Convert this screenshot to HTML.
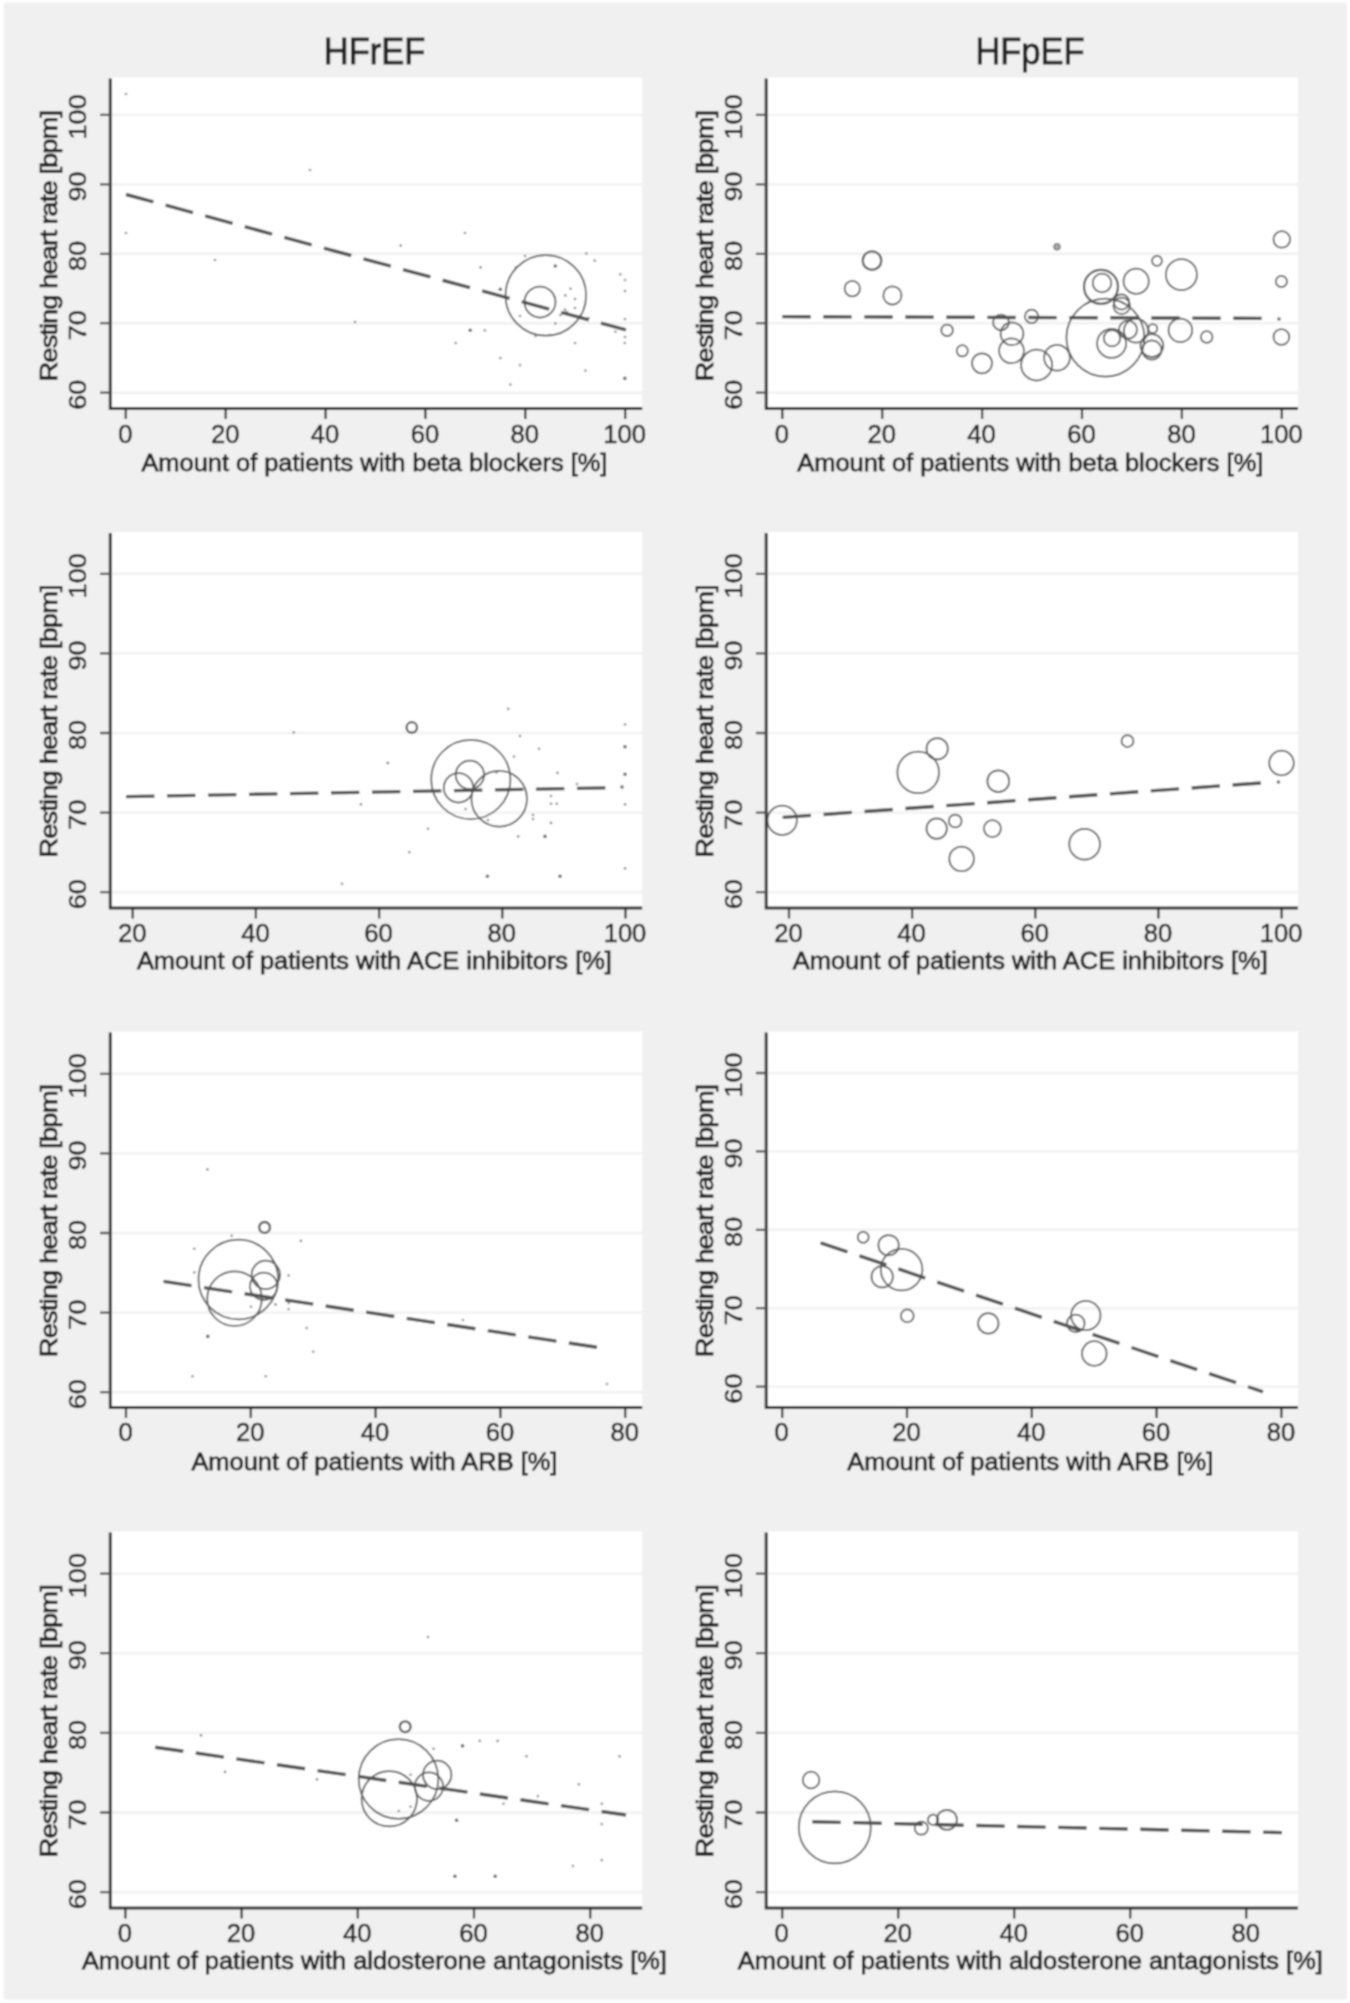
<!DOCTYPE html>
<html lang="en"><head><meta charset="utf-8"><title>HFrEF vs HFpEF – resting heart rate by medication</title>
<style>html,body{margin:0;padding:0;background:#fff}svg{display:block}text{font-family:"Liberation Sans", Arial, Helvetica, sans-serif;fill:#202020;stroke:#202020;stroke-width:0.3px}.tk{font-size:25.6px;stroke-width:0.5px}.tt{font-size:24.7px;stroke-width:0.8px}.hd{font-size:36.5px;stroke-width:0.9px}.c{fill:none;stroke:#565656;stroke-width:1.75}.c2{fill:none;stroke:#565656;stroke-width:2.3}.d{fill:#8a8a8a}.dd{fill:#666}.ln{stroke:#505050;stroke-width:3.4;stroke-dasharray:28.4 12.6;fill:none}.ax{stroke:#2c2c2c;stroke-width:3;fill:none}.tick{stroke:#2a2a2a;stroke-width:2.2;fill:none}.ytick{stroke:#555;stroke-width:2.3;fill:none}.g{stroke:#f1f1f1;stroke-width:2.4}</style></head><body>
<svg width="1350" height="2003" viewBox="0 0 1350 2003">
<defs><filter id="b" x="-2%" y="-2%" width="104%" height="104%"><feConvolveMatrix order="3" kernelMatrix="1 2 1 2 4 2 1 2 1" divisor="16" edgeMode="duplicate" preserveAlpha="false"/><feConvolveMatrix order="3" kernelMatrix="1 6 1 6 36 6 1 6 1" divisor="64" edgeMode="duplicate" preserveAlpha="false"/></filter></defs>
<rect x="0" y="0" width="1350" height="2003" fill="#fff"/>
<g filter="url(#b)">
<rect x="3.6" y="2.5" width="1343.4" height="1997.2" rx="3" fill="#f0f0f0"/>
<text class="hd" text-anchor="middle" transform="translate(374.5 63.7) scale(0.945 1)">HFrEF</text>
<text class="hd" text-anchor="middle" transform="translate(1030 63.7) scale(0.945 1)">HFpEF</text>
<rect x="110.3" y="77.5" width="531.9" height="331.1" fill="#fff"/>
<line class="g" x1="111.3" y1="114.9" x2="642.2" y2="114.9"/>
<line class="g" x1="111.3" y1="184.4" x2="642.2" y2="184.4"/>
<line class="g" x1="111.3" y1="253.8" x2="642.2" y2="253.8"/>
<line class="g" x1="111.3" y1="323.2" x2="642.2" y2="323.2"/>
<line class="g" x1="111.3" y1="392.7" x2="642.2" y2="392.7"/>
<g class="d"><circle cx="126.0" cy="94.0" r="1.3"/><circle cx="310.0" cy="170.0" r="1.3"/><circle cx="126.0" cy="233.0" r="1.3"/><circle cx="465.0" cy="233.0" r="1.3"/><circle cx="400.7" cy="245.6" r="1.3"/><circle cx="215.0" cy="260.0" r="1.3"/><circle cx="480.6" cy="267.4" r="1.3"/><circle cx="355.0" cy="322.0" r="1.3"/><circle cx="484.8" cy="330.3" r="1.3"/><circle cx="455.7" cy="343.0" r="1.3"/><circle cx="500.3" cy="358.0" r="1.3"/><circle cx="520.0" cy="365.0" r="1.3"/><circle cx="510.3" cy="384.6" r="1.3"/><circle cx="585.4" cy="370.5" r="1.3"/><circle cx="624.8" cy="343.0" r="1.3"/><circle cx="575.0" cy="343.0" r="1.3"/><circle cx="586.4" cy="253.5" r="1.3"/><circle cx="594.7" cy="260.6" r="1.3"/><circle cx="620.2" cy="274.3" r="1.3"/><circle cx="625.0" cy="280.0" r="1.3"/><circle cx="625.0" cy="291.0" r="1.3"/><circle cx="625.0" cy="319.0" r="1.3"/><circle cx="625.0" cy="337.0" r="1.3"/><circle cx="525.0" cy="256.0" r="1.3"/><circle cx="516.0" cy="267.4" r="1.3"/><circle cx="570.5" cy="288.8" r="1.3"/><circle cx="565.3" cy="295.4" r="1.3"/><circle cx="575.0" cy="299.0" r="1.3"/><circle cx="575.0" cy="308.0" r="1.3"/><circle cx="565.0" cy="309.5" r="1.3"/><circle cx="560.5" cy="315.0" r="1.3"/><circle cx="588.5" cy="318.0" r="1.3"/><circle cx="555.3" cy="323.4" r="1.3"/><circle cx="520.0" cy="316.0" r="1.3"/><circle cx="535.6" cy="336.0" r="1.3"/><circle cx="550.0" cy="335.0" r="1.3"/><circle cx="615.5" cy="331.7" r="1.3"/><circle cx="567.0" cy="312.0" r="1.3"/><circle cx="580.0" cy="316.0" r="1.3"/></g>
<g class="dd"><circle cx="500.3" cy="289.2" r="1.8"/><circle cx="470.2" cy="330.3" r="1.8"/><circle cx="624.8" cy="378.4" r="1.8"/><circle cx="555.3" cy="266.0" r="1.8"/></g>
<circle class="c" cx="545.8" cy="295.4" r="40.3"/><circle class="c" cx="540.0" cy="302.0" r="15.5"/>
<line class="ln" x1="126.0" y1="194.5" x2="626.0" y2="329.9"/>
<path class="ax" d="M110.3 78.5V408.6H642.2"/>
<path class="ytick" d="M100.0 114.9H110.3M100.0 184.4H110.3M100.0 253.8H110.3M100.0 323.2H110.3M100.0 392.7H110.3"/>
<path class="tick" d="M125.8 408.6V419.1M225.7 408.6V419.1M325.6 408.6V419.1M425.4 408.6V419.1M525.3 408.6V419.1M625.2 408.6V419.1"/>
<text class="tk" style="font-size:24.1px" text-anchor="middle" transform="translate(86.2 116.9) rotate(-90) scale(1.125 1)">100</text>
<text class="tk" style="font-size:24.1px" text-anchor="middle" transform="translate(86.2 186.4) rotate(-90) scale(1.125 1)">90</text>
<text class="tk" style="font-size:24.1px" text-anchor="middle" transform="translate(86.2 255.8) rotate(-90) scale(1.125 1)">80</text>
<text class="tk" style="font-size:24.1px" text-anchor="middle" transform="translate(86.2 325.2) rotate(-90) scale(1.125 1)">70</text>
<text class="tk" style="font-size:24.1px" text-anchor="middle" transform="translate(86.2 394.7) rotate(-90) scale(1.125 1)">60</text>
<text class="tk" text-anchor="middle" transform="translate(125.3 442.5) scale(1.0 1)">0</text>
<text class="tk" text-anchor="middle" transform="translate(225.2 442.5) scale(1.0 1)">20</text>
<text class="tk" text-anchor="middle" transform="translate(325.1 442.5) scale(1.0 1)">40</text>
<text class="tk" text-anchor="middle" transform="translate(424.9 442.5) scale(1.0 1)">60</text>
<text class="tk" text-anchor="middle" transform="translate(524.8 442.5) scale(1.0 1)">80</text>
<text class="tk" text-anchor="middle" transform="translate(624.7 442.5) scale(1.0 1)">100</text>
<text class="tt" text-anchor="middle" x="374.4" y="470.6" textLength="466.0" lengthAdjust="spacingAndGlyphs">Amount of patients with beta blockers [%]</text>
<text class="tt" style="font-size:24.3px" text-anchor="middle" transform="translate(57.1 245.7) rotate(-90) scale(1.13 1)" textLength="240.3" lengthAdjust="spacing">Resting heart rate [bpm]</text>
<rect x="766.2" y="77.5" width="531.8" height="331.1" fill="#fff"/>
<line class="g" x1="767.2" y1="114.9" x2="1298.0" y2="114.9"/>
<line class="g" x1="767.2" y1="184.4" x2="1298.0" y2="184.4"/>
<line class="g" x1="767.2" y1="253.8" x2="1298.0" y2="253.8"/>
<line class="g" x1="767.2" y1="323.2" x2="1298.0" y2="323.2"/>
<line class="g" x1="767.2" y1="392.7" x2="1298.0" y2="392.7"/>
<circle class="c2" cx="872.0" cy="260.6" r="9.3"/><circle class="c" cx="852.3" cy="288.6" r="7.7"/><circle class="c" cx="892.4" cy="295.4" r="9.1"/><circle class="c" cx="947.1" cy="330.3" r="5.8"/><circle class="c" cx="962.3" cy="350.8" r="5.6"/><circle class="c" cx="982.0" cy="363.3" r="10.0"/><circle class="c" cx="1001.0" cy="322.4" r="7.9"/><circle class="c" cx="1012.0" cy="333.8" r="11.4"/><circle class="c" cx="1011.5" cy="350.8" r="12.4"/><circle class="c" cx="1031.6" cy="316.4" r="6.7"/><circle class="c" cx="1036.6" cy="365.0" r="15.5"/><circle class="c" cx="1057.0" cy="357.7" r="12.9"/><circle class="c" cx="1105.4" cy="337.6" r="39.0"/><circle class="c2" cx="1101.0" cy="286.8" r="17.0"/><circle class="c" cx="1102.0" cy="283.0" r="9.3"/><circle class="c" cx="1136.2" cy="281.3" r="12.6"/><circle class="c" cx="1157.0" cy="260.8" r="5.0"/><circle class="c" cx="1181.4" cy="274.7" r="15.5"/><circle class="c" cx="1281.8" cy="239.4" r="8.3"/><circle class="c" cx="1281.4" cy="281.5" r="5.6"/><circle class="c" cx="1281.4" cy="337.0" r="7.9"/><circle class="c" cx="1206.7" cy="337.0" r="5.8"/><circle class="c" cx="1180.4" cy="330.3" r="11.8"/><circle class="c" cx="1121.7" cy="305.8" r="8.3"/><circle class="c" cx="1121.5" cy="302.0" r="7.6"/><circle class="c" cx="1111.6" cy="343.4" r="14.5"/><circle class="c" cx="1112.0" cy="338.2" r="8.2"/><circle class="c" cx="1151.9" cy="345.6" r="11.4"/><circle class="c" cx="1151.9" cy="350.0" r="9.6"/><circle class="c" cx="1128.0" cy="329.7" r="9.0"/><circle class="c" cx="1136.0" cy="330.7" r="12.0"/><circle class="c" cx="1152.8" cy="328.6" r="4.5"/>
<line class="ln" x1="782.3" y1="316.6" x2="1268.0" y2="318.4"/>
<path class="ax" d="M766.2 78.5V408.6H1298.0"/>
<path class="ytick" d="M755.9 114.9H766.2M755.9 184.4H766.2M755.9 253.8H766.2M755.9 323.2H766.2M755.9 392.7H766.2"/>
<path class="tick" d="M782.3 408.6V419.1M882.2 408.6V419.1M982.1 408.6V419.1M1082.0 408.6V419.1M1181.9 408.6V419.1M1281.8 408.6V419.1"/>
<text class="tk" style="font-size:24.1px" text-anchor="middle" transform="translate(742.1 116.9) rotate(-90) scale(1.125 1)">100</text>
<text class="tk" style="font-size:24.1px" text-anchor="middle" transform="translate(742.1 186.4) rotate(-90) scale(1.125 1)">90</text>
<text class="tk" style="font-size:24.1px" text-anchor="middle" transform="translate(742.1 255.8) rotate(-90) scale(1.125 1)">80</text>
<text class="tk" style="font-size:24.1px" text-anchor="middle" transform="translate(742.1 325.2) rotate(-90) scale(1.125 1)">70</text>
<text class="tk" style="font-size:24.1px" text-anchor="middle" transform="translate(742.1 394.7) rotate(-90) scale(1.125 1)">60</text>
<text class="tk" text-anchor="middle" transform="translate(781.8 442.5) scale(1.0 1)">0</text>
<text class="tk" text-anchor="middle" transform="translate(881.7 442.5) scale(1.0 1)">20</text>
<text class="tk" text-anchor="middle" transform="translate(981.6 442.5) scale(1.0 1)">40</text>
<text class="tk" text-anchor="middle" transform="translate(1081.5 442.5) scale(1.0 1)">60</text>
<text class="tk" text-anchor="middle" transform="translate(1181.4 442.5) scale(1.0 1)">80</text>
<text class="tk" text-anchor="middle" transform="translate(1281.3 442.5) scale(1.0 1)">100</text>
<text class="tt" text-anchor="middle" x="1030.3" y="470.6" textLength="466.0" lengthAdjust="spacingAndGlyphs">Amount of patients with beta blockers [%]</text>
<text class="tt" style="font-size:24.3px" text-anchor="middle" transform="translate(713.0 245.7) rotate(-90) scale(1.13 1)" textLength="240.3" lengthAdjust="spacing">Resting heart rate [bpm]</text>
<circle cx="1057" cy="246.7" r="3.1" fill="#a8a8a8" stroke="#777" stroke-width="1.3"/>
<circle cx="1279" cy="319" r="1.8" fill="#666"/>
<rect x="110.3" y="532.0" width="531.9" height="376.0" fill="#fff"/>
<line class="g" x1="111.3" y1="573.8" x2="642.2" y2="573.8"/>
<line class="g" x1="111.3" y1="653.4" x2="642.2" y2="653.4"/>
<line class="g" x1="111.3" y1="733.0" x2="642.2" y2="733.0"/>
<line class="g" x1="111.3" y1="812.6" x2="642.2" y2="812.6"/>
<line class="g" x1="111.3" y1="892.2" x2="642.2" y2="892.2"/>
<g class="d"><circle cx="508.2" cy="708.9" r="1.3"/><circle cx="625.0" cy="724.5" r="1.3"/><circle cx="625.0" cy="804.4" r="1.3"/><circle cx="625.0" cy="868.4" r="1.3"/><circle cx="520.0" cy="736.0" r="1.3"/><circle cx="539.0" cy="748.7" r="1.3"/><circle cx="514.0" cy="756.5" r="1.3"/><circle cx="557.5" cy="772.9" r="1.3"/><circle cx="388.0" cy="763.0" r="1.3"/><circle cx="360.9" cy="804.4" r="1.3"/><circle cx="551.0" cy="796.0" r="1.3"/><circle cx="551.0" cy="803.7" r="1.3"/><circle cx="556.8" cy="803.7" r="1.3"/><circle cx="533.0" cy="815.0" r="1.3"/><circle cx="551.0" cy="822.9" r="1.3"/><circle cx="518.2" cy="836.4" r="1.3"/><circle cx="428.0" cy="828.8" r="1.3"/><circle cx="409.4" cy="852.3" r="1.3"/><circle cx="342.0" cy="883.8" r="1.3"/><circle cx="488.0" cy="820.0" r="1.3"/><circle cx="496.4" cy="772.4" r="1.3"/><circle cx="465.6" cy="809.0" r="1.3"/><circle cx="577.0" cy="784.0" r="1.3"/><circle cx="293.7" cy="732.3" r="1.3"/><circle cx="387.5" cy="763.0" r="1.3"/><circle cx="533.0" cy="819.0" r="1.3"/></g>
<g class="dd"><circle cx="625.0" cy="746.8" r="1.8"/><circle cx="625.0" cy="774.3" r="1.8"/><circle cx="622.0" cy="787.0" r="1.8"/><circle cx="545.0" cy="836.4" r="1.8"/><circle cx="487.4" cy="876.2" r="1.8"/><circle cx="560.0" cy="876.2" r="1.8"/></g>
<circle class="c" cx="470.8" cy="779.5" r="39.6"/><circle class="c" cx="499.2" cy="798.7" r="27.8"/><circle class="c" cx="469.9" cy="774.8" r="14.2"/><circle class="c" cx="458.5" cy="787.8" r="14.7"/><circle class="c2" cx="411.8" cy="727.4" r="5.2"/>
<line class="ln" x1="126.0" y1="796.6" x2="607.0" y2="787.8"/>
<path class="ax" d="M110.3 533.0V908.0H642.2"/>
<path class="ytick" d="M100.0 573.8H110.3M100.0 653.4H110.3M100.0 733.0H110.3M100.0 812.6H110.3M100.0 892.2H110.3"/>
<path class="tick" d="M132.7 908.0V918.5M255.9 908.0V918.5M379.1 908.0V918.5M502.3 908.0V918.5M625.5 908.0V918.5"/>
<text class="tk" style="font-size:24.1px" text-anchor="middle" transform="translate(86.2 575.8) rotate(-90) scale(1.125 1)">100</text>
<text class="tk" style="font-size:24.1px" text-anchor="middle" transform="translate(86.2 655.4) rotate(-90) scale(1.125 1)">90</text>
<text class="tk" style="font-size:24.1px" text-anchor="middle" transform="translate(86.2 735.0) rotate(-90) scale(1.125 1)">80</text>
<text class="tk" style="font-size:24.1px" text-anchor="middle" transform="translate(86.2 814.6) rotate(-90) scale(1.125 1)">70</text>
<text class="tk" style="font-size:24.1px" text-anchor="middle" transform="translate(86.2 894.2) rotate(-90) scale(1.125 1)">60</text>
<text class="tk" text-anchor="middle" transform="translate(132.2 941.9) scale(1.0 1)">20</text>
<text class="tk" text-anchor="middle" transform="translate(255.4 941.9) scale(1.0 1)">40</text>
<text class="tk" text-anchor="middle" transform="translate(378.6 941.9) scale(1.0 1)">60</text>
<text class="tk" text-anchor="middle" transform="translate(501.8 941.9) scale(1.0 1)">80</text>
<text class="tk" text-anchor="middle" transform="translate(625.0 941.9) scale(1.0 1)">100</text>
<text class="tt" text-anchor="middle" x="374.4" y="968.5" textLength="475.0" lengthAdjust="spacingAndGlyphs">Amount of patients with ACE inhibitors [%]</text>
<text class="tt" style="font-size:24.3px" text-anchor="middle" transform="translate(57.1 721.0) rotate(-90) scale(1.13 1)" textLength="242.0" lengthAdjust="spacing">Resting heart rate [bpm]</text>
<rect x="766.2" y="532.0" width="531.8" height="376.0" fill="#fff"/>
<line class="g" x1="767.2" y1="573.8" x2="1298.0" y2="573.8"/>
<line class="g" x1="767.2" y1="653.4" x2="1298.0" y2="653.4"/>
<line class="g" x1="767.2" y1="733.0" x2="1298.0" y2="733.0"/>
<line class="g" x1="767.2" y1="812.6" x2="1298.0" y2="812.6"/>
<line class="g" x1="767.2" y1="892.2" x2="1298.0" y2="892.2"/>
<g class="dd"><circle cx="1278.4" cy="782.0" r="1.8"/></g>
<circle class="c" cx="782.2" cy="820.3" r="14.7"/><circle class="c" cx="918.2" cy="772.4" r="20.8"/><circle class="c" cx="937.2" cy="748.7" r="10.7"/><circle class="c" cx="998.3" cy="781.2" r="10.9"/><circle class="c" cx="936.7" cy="828.6" r="10.2"/><circle class="c" cx="955.2" cy="821.0" r="6.4"/><circle class="c" cx="992.4" cy="828.6" r="8.5"/><circle class="c" cx="961.6" cy="858.9" r="12.3"/><circle class="c" cx="1127.5" cy="741.0" r="6.0"/><circle class="c" cx="1281.5" cy="763.0" r="12.3"/><circle class="c" cx="1084.6" cy="844.2" r="15.4"/>
<line class="ln" x1="782.7" y1="817.4" x2="1262.0" y2="782.9"/>
<path class="ax" d="M766.2 533.0V908.0H1298.0"/>
<path class="ytick" d="M755.9 573.8H766.2M755.9 653.4H766.2M755.9 733.0H766.2M755.9 812.6H766.2M755.9 892.2H766.2"/>
<path class="tick" d="M789.0 908.0V918.5M912.1 908.0V918.5M1035.3 908.0V918.5M1158.4 908.0V918.5M1281.6 908.0V918.5"/>
<text class="tk" style="font-size:24.1px" text-anchor="middle" transform="translate(742.1 575.8) rotate(-90) scale(1.125 1)">100</text>
<text class="tk" style="font-size:24.1px" text-anchor="middle" transform="translate(742.1 655.4) rotate(-90) scale(1.125 1)">90</text>
<text class="tk" style="font-size:24.1px" text-anchor="middle" transform="translate(742.1 735.0) rotate(-90) scale(1.125 1)">80</text>
<text class="tk" style="font-size:24.1px" text-anchor="middle" transform="translate(742.1 814.6) rotate(-90) scale(1.125 1)">70</text>
<text class="tk" style="font-size:24.1px" text-anchor="middle" transform="translate(742.1 894.2) rotate(-90) scale(1.125 1)">60</text>
<text class="tk" text-anchor="middle" transform="translate(788.5 941.9) scale(1.0 1)">20</text>
<text class="tk" text-anchor="middle" transform="translate(911.6 941.9) scale(1.0 1)">40</text>
<text class="tk" text-anchor="middle" transform="translate(1034.8 941.9) scale(1.0 1)">60</text>
<text class="tk" text-anchor="middle" transform="translate(1157.9 941.9) scale(1.0 1)">80</text>
<text class="tk" text-anchor="middle" transform="translate(1281.1 941.9) scale(1.0 1)">100</text>
<text class="tt" text-anchor="middle" x="1030.3" y="968.5" textLength="475.0" lengthAdjust="spacingAndGlyphs">Amount of patients with ACE inhibitors [%]</text>
<text class="tt" style="font-size:24.3px" text-anchor="middle" transform="translate(713.0 721.0) rotate(-90) scale(1.13 1)" textLength="242.0" lengthAdjust="spacing">Resting heart rate [bpm]</text>
<rect x="110.3" y="1031.5" width="531.9" height="376.0" fill="#fff"/>
<line class="g" x1="111.3" y1="1073.8" x2="642.2" y2="1073.8"/>
<line class="g" x1="111.3" y1="1153.4" x2="642.2" y2="1153.4"/>
<line class="g" x1="111.3" y1="1233.0" x2="642.2" y2="1233.0"/>
<line class="g" x1="111.3" y1="1312.6" x2="642.2" y2="1312.6"/>
<line class="g" x1="111.3" y1="1392.2" x2="642.2" y2="1392.2"/>
<g class="d"><circle cx="231.7" cy="1235.7" r="1.3"/><circle cx="300.9" cy="1240.9" r="1.3"/><circle cx="194.3" cy="1248.7" r="1.3"/><circle cx="194.3" cy="1272.4" r="1.3"/><circle cx="288.6" cy="1275.5" r="1.3"/><circle cx="275.5" cy="1304.4" r="1.3"/><circle cx="288.6" cy="1309.0" r="1.3"/><circle cx="251.0" cy="1306.8" r="1.3"/><circle cx="306.8" cy="1328.0" r="1.3"/><circle cx="313.2" cy="1351.8" r="1.3"/><circle cx="192.4" cy="1376.2" r="1.3"/><circle cx="265.8" cy="1376.2" r="1.3"/><circle cx="207.4" cy="1169.4" r="1.3"/><circle cx="463.0" cy="1320.0" r="1.3"/><circle cx="607.0" cy="1384.0" r="1.3"/><circle cx="288.6" cy="1303.0" r="1.3"/></g>
<g class="dd"><circle cx="207.8" cy="1336.4" r="1.8"/></g>
<circle class="c" cx="238.3" cy="1279.5" r="39.8"/><circle class="c" cx="234.5" cy="1298.7" r="27.3"/><circle class="c" cx="265.8" cy="1274.8" r="14.2"/><circle class="c" cx="263.7" cy="1286.2" r="13.7"/><circle class="c2" cx="264.6" cy="1227.4" r="5.4"/>
<line class="ln" x1="163.5" y1="1281.4" x2="600.0" y2="1347.7"/>
<path class="ax" d="M110.3 1032.5V1407.5H642.2"/>
<path class="ytick" d="M100.0 1073.8H110.3M100.0 1153.4H110.3M100.0 1233.0H110.3M100.0 1312.6H110.3M100.0 1392.2H110.3"/>
<path class="tick" d="M126.0 1407.5V1418.0M250.8 1407.5V1418.0M375.6 1407.5V1418.0M500.4 1407.5V1418.0M625.2 1407.5V1418.0"/>
<text class="tk" style="font-size:24.1px" text-anchor="middle" transform="translate(86.2 1075.8) rotate(-90) scale(1.125 1)">100</text>
<text class="tk" style="font-size:24.1px" text-anchor="middle" transform="translate(86.2 1155.4) rotate(-90) scale(1.125 1)">90</text>
<text class="tk" style="font-size:24.1px" text-anchor="middle" transform="translate(86.2 1235.0) rotate(-90) scale(1.125 1)">80</text>
<text class="tk" style="font-size:24.1px" text-anchor="middle" transform="translate(86.2 1314.6) rotate(-90) scale(1.125 1)">70</text>
<text class="tk" style="font-size:24.1px" text-anchor="middle" transform="translate(86.2 1394.2) rotate(-90) scale(1.125 1)">60</text>
<text class="tk" text-anchor="middle" transform="translate(125.5 1441.4) scale(1.0 1)">0</text>
<text class="tk" text-anchor="middle" transform="translate(250.3 1441.4) scale(1.0 1)">20</text>
<text class="tk" text-anchor="middle" transform="translate(375.1 1441.4) scale(1.0 1)">40</text>
<text class="tk" text-anchor="middle" transform="translate(499.9 1441.4) scale(1.0 1)">60</text>
<text class="tk" text-anchor="middle" transform="translate(624.7 1441.4) scale(1.0 1)">80</text>
<text class="tt" text-anchor="middle" x="374.4" y="1469.5" textLength="366.0" lengthAdjust="spacingAndGlyphs">Amount of patients with ARB [%]</text>
<text class="tt" style="font-size:24.3px" text-anchor="middle" transform="translate(57.1 1220.5) rotate(-90) scale(1.13 1)" textLength="242.0" lengthAdjust="spacing">Resting heart rate [bpm]</text>
<rect x="766.2" y="1031.5" width="531.8" height="376.0" fill="#fff"/>
<line class="g" x1="767.2" y1="1073.0" x2="1298.0" y2="1073.0"/>
<line class="g" x1="767.2" y1="1151.4" x2="1298.0" y2="1151.4"/>
<line class="g" x1="767.2" y1="1229.8" x2="1298.0" y2="1229.8"/>
<line class="g" x1="767.2" y1="1308.2" x2="1298.0" y2="1308.2"/>
<line class="g" x1="767.2" y1="1386.6" x2="1298.0" y2="1386.6"/>
<circle class="c" cx="863.2" cy="1237.3" r="5.5"/><circle class="c" cx="888.6" cy="1245.2" r="10.2"/><circle class="c" cx="901.6" cy="1269.6" r="20.8"/><circle class="c" cx="882.2" cy="1276.7" r="10.7"/><circle class="c" cx="907.3" cy="1315.8" r="6.4"/><circle class="c" cx="988.3" cy="1323.4" r="10.2"/><circle class="c" cx="1085.8" cy="1315.5" r="14.7"/><circle class="c" cx="1075.8" cy="1323.4" r="8.8"/><circle class="c" cx="1094.3" cy="1353.5" r="12.3"/>
<line class="ln" x1="820.6" y1="1242.8" x2="1263.0" y2="1391.8"/>
<path class="ax" d="M766.2 1032.5V1407.5H1298.0"/>
<path class="ytick" d="M755.9 1073.0H766.2M755.9 1151.4H766.2M755.9 1229.8H766.2M755.9 1308.2H766.2M755.9 1386.6H766.2"/>
<path class="tick" d="M782.2 1407.5V1418.0M907.0 1407.5V1418.0M1031.8 1407.5V1418.0M1156.6 1407.5V1418.0M1281.4 1407.5V1418.0"/>
<text class="tk" style="font-size:24.1px" text-anchor="middle" transform="translate(742.1 1075.0) rotate(-90) scale(1.125 1)">100</text>
<text class="tk" style="font-size:24.1px" text-anchor="middle" transform="translate(742.1 1153.4) rotate(-90) scale(1.125 1)">90</text>
<text class="tk" style="font-size:24.1px" text-anchor="middle" transform="translate(742.1 1231.8) rotate(-90) scale(1.125 1)">80</text>
<text class="tk" style="font-size:24.1px" text-anchor="middle" transform="translate(742.1 1310.2) rotate(-90) scale(1.125 1)">70</text>
<text class="tk" style="font-size:24.1px" text-anchor="middle" transform="translate(742.1 1388.6) rotate(-90) scale(1.125 1)">60</text>
<text class="tk" text-anchor="middle" transform="translate(781.7 1441.4) scale(1.0 1)">0</text>
<text class="tk" text-anchor="middle" transform="translate(906.5 1441.4) scale(1.0 1)">20</text>
<text class="tk" text-anchor="middle" transform="translate(1031.3 1441.4) scale(1.0 1)">40</text>
<text class="tk" text-anchor="middle" transform="translate(1156.1 1441.4) scale(1.0 1)">60</text>
<text class="tk" text-anchor="middle" transform="translate(1280.9 1441.4) scale(1.0 1)">80</text>
<text class="tt" text-anchor="middle" x="1030.3" y="1469.5" textLength="366.0" lengthAdjust="spacingAndGlyphs">Amount of patients with ARB [%]</text>
<text class="tt" style="font-size:24.3px" text-anchor="middle" transform="translate(713.0 1220.5) rotate(-90) scale(1.13 1)" textLength="242.0" lengthAdjust="spacing">Resting heart rate [bpm]</text>
<rect x="110.3" y="1531.5" width="531.9" height="376.5" fill="#fff"/>
<line class="g" x1="111.3" y1="1573.6" x2="642.2" y2="1573.6"/>
<line class="g" x1="111.3" y1="1653.2" x2="642.2" y2="1653.2"/>
<line class="g" x1="111.3" y1="1732.9" x2="642.2" y2="1732.9"/>
<line class="g" x1="111.3" y1="1812.5" x2="642.2" y2="1812.5"/>
<line class="g" x1="111.3" y1="1892.2" x2="642.2" y2="1892.2"/>
<g class="d"><circle cx="433.6" cy="1748.7" r="1.3"/><circle cx="479.8" cy="1740.9" r="1.3"/><circle cx="497.6" cy="1740.9" r="1.3"/><circle cx="526.5" cy="1756.3" r="1.3"/><circle cx="619.6" cy="1756.3" r="1.3"/><circle cx="578.9" cy="1784.3" r="1.3"/><circle cx="537.9" cy="1796.1" r="1.3"/><circle cx="503.5" cy="1803.7" r="1.3"/><circle cx="601.8" cy="1803.7" r="1.3"/><circle cx="601.8" cy="1824.1" r="1.3"/><circle cx="601.8" cy="1860.1" r="1.3"/><circle cx="572.9" cy="1866.0" r="1.3"/><circle cx="398.8" cy="1811.0" r="1.3"/><circle cx="410.6" cy="1806.8" r="1.3"/><circle cx="410.6" cy="1774.8" r="1.3"/><circle cx="201.0" cy="1735.4" r="1.3"/><circle cx="225.0" cy="1771.9" r="1.3"/><circle cx="317.0" cy="1779.4" r="1.3"/><circle cx="428.0" cy="1637.0" r="1.3"/></g>
<g class="dd"><circle cx="462.5" cy="1745.9" r="1.8"/><circle cx="456.6" cy="1820.3" r="1.8"/><circle cx="454.9" cy="1876.2" r="1.8"/><circle cx="495.2" cy="1876.2" r="1.8"/></g>
<circle class="c" cx="398.5" cy="1779.0" r="39.8"/><circle class="c" cx="389.3" cy="1798.7" r="27.7"/><circle class="c" cx="437.2" cy="1774.8" r="14.2"/><circle class="c" cx="428.9" cy="1786.6" r="14.2"/><circle class="c2" cx="405.2" cy="1726.7" r="5.4"/>
<line class="ln" x1="155.2" y1="1747.2" x2="626.0" y2="1815.0"/>
<path class="ax" d="M110.3 1532.5V1908.0H642.2"/>
<path class="ytick" d="M100.0 1573.6H110.3M100.0 1653.2H110.3M100.0 1732.9H110.3M100.0 1812.5H110.3M100.0 1892.2H110.3"/>
<path class="tick" d="M125.4 1908.0V1918.5M241.6 1908.0V1918.5M357.8 1908.0V1918.5M474.0 1908.0V1918.5M590.2 1908.0V1918.5"/>
<text class="tk" style="font-size:24.1px" text-anchor="middle" transform="translate(86.2 1575.6) rotate(-90) scale(1.125 1)">100</text>
<text class="tk" style="font-size:24.1px" text-anchor="middle" transform="translate(86.2 1655.2) rotate(-90) scale(1.125 1)">90</text>
<text class="tk" style="font-size:24.1px" text-anchor="middle" transform="translate(86.2 1734.9) rotate(-90) scale(1.125 1)">80</text>
<text class="tk" style="font-size:24.1px" text-anchor="middle" transform="translate(86.2 1814.5) rotate(-90) scale(1.125 1)">70</text>
<text class="tk" style="font-size:24.1px" text-anchor="middle" transform="translate(86.2 1894.2) rotate(-90) scale(1.125 1)">60</text>
<text class="tk" text-anchor="middle" transform="translate(124.9 1941.9) scale(1.0 1)">0</text>
<text class="tk" text-anchor="middle" transform="translate(241.1 1941.9) scale(1.0 1)">20</text>
<text class="tk" text-anchor="middle" transform="translate(357.3 1941.9) scale(1.0 1)">40</text>
<text class="tk" text-anchor="middle" transform="translate(473.5 1941.9) scale(1.0 1)">60</text>
<text class="tk" text-anchor="middle" transform="translate(589.7 1941.9) scale(1.0 1)">80</text>
<text class="tt" text-anchor="middle" x="374.4" y="1968.5" textLength="585.0" lengthAdjust="spacingAndGlyphs">Amount of patients with aldosterone antagonists [%]</text>
<text class="tt" style="font-size:24.3px" text-anchor="middle" transform="translate(57.1 1720.8) rotate(-90) scale(1.13 1)" textLength="242.0" lengthAdjust="spacing">Resting heart rate [bpm]</text>
<rect x="766.2" y="1531.5" width="531.8" height="376.5" fill="#fff"/>
<line class="g" x1="767.2" y1="1573.6" x2="1298.0" y2="1573.6"/>
<line class="g" x1="767.2" y1="1653.2" x2="1298.0" y2="1653.2"/>
<line class="g" x1="767.2" y1="1732.9" x2="1298.0" y2="1732.9"/>
<line class="g" x1="767.2" y1="1812.5" x2="1298.0" y2="1812.5"/>
<line class="g" x1="767.2" y1="1892.2" x2="1298.0" y2="1892.2"/>
<circle class="c" cx="811.1" cy="1780.0" r="8.3"/><circle class="c" cx="834.8" cy="1827.4" r="36.0"/><circle class="c" cx="921.3" cy="1828.1" r="6.6"/><circle class="c" cx="933.1" cy="1819.8" r="5.2"/><circle class="c" cx="946.9" cy="1819.8" r="10.0"/>
<line class="ln" x1="812.3" y1="1821.7" x2="1282.0" y2="1832.6"/>
<path class="ax" d="M766.2 1532.5V1908.0H1298.0"/>
<path class="ytick" d="M755.9 1573.6H766.2M755.9 1653.2H766.2M755.9 1732.9H766.2M755.9 1812.5H766.2M755.9 1892.2H766.2"/>
<path class="tick" d="M782.2 1908.0V1918.5M898.2 1908.0V1918.5M1014.2 1908.0V1918.5M1130.2 1908.0V1918.5M1246.2 1908.0V1918.5"/>
<text class="tk" style="font-size:24.1px" text-anchor="middle" transform="translate(742.1 1575.6) rotate(-90) scale(1.125 1)">100</text>
<text class="tk" style="font-size:24.1px" text-anchor="middle" transform="translate(742.1 1655.2) rotate(-90) scale(1.125 1)">90</text>
<text class="tk" style="font-size:24.1px" text-anchor="middle" transform="translate(742.1 1734.9) rotate(-90) scale(1.125 1)">80</text>
<text class="tk" style="font-size:24.1px" text-anchor="middle" transform="translate(742.1 1814.5) rotate(-90) scale(1.125 1)">70</text>
<text class="tk" style="font-size:24.1px" text-anchor="middle" transform="translate(742.1 1894.2) rotate(-90) scale(1.125 1)">60</text>
<text class="tk" text-anchor="middle" transform="translate(781.7 1941.9) scale(1.0 1)">0</text>
<text class="tk" text-anchor="middle" transform="translate(897.7 1941.9) scale(1.0 1)">20</text>
<text class="tk" text-anchor="middle" transform="translate(1013.7 1941.9) scale(1.0 1)">40</text>
<text class="tk" text-anchor="middle" transform="translate(1129.7 1941.9) scale(1.0 1)">60</text>
<text class="tk" text-anchor="middle" transform="translate(1245.7 1941.9) scale(1.0 1)">80</text>
<text class="tt" text-anchor="middle" x="1030.3" y="1968.5" textLength="585.0" lengthAdjust="spacingAndGlyphs">Amount of patients with aldosterone antagonists [%]</text>
<text class="tt" style="font-size:24.3px" text-anchor="middle" transform="translate(713.0 1720.8) rotate(-90) scale(1.13 1)" textLength="242.0" lengthAdjust="spacing">Resting heart rate [bpm]</text>
</g></svg></body></html>
